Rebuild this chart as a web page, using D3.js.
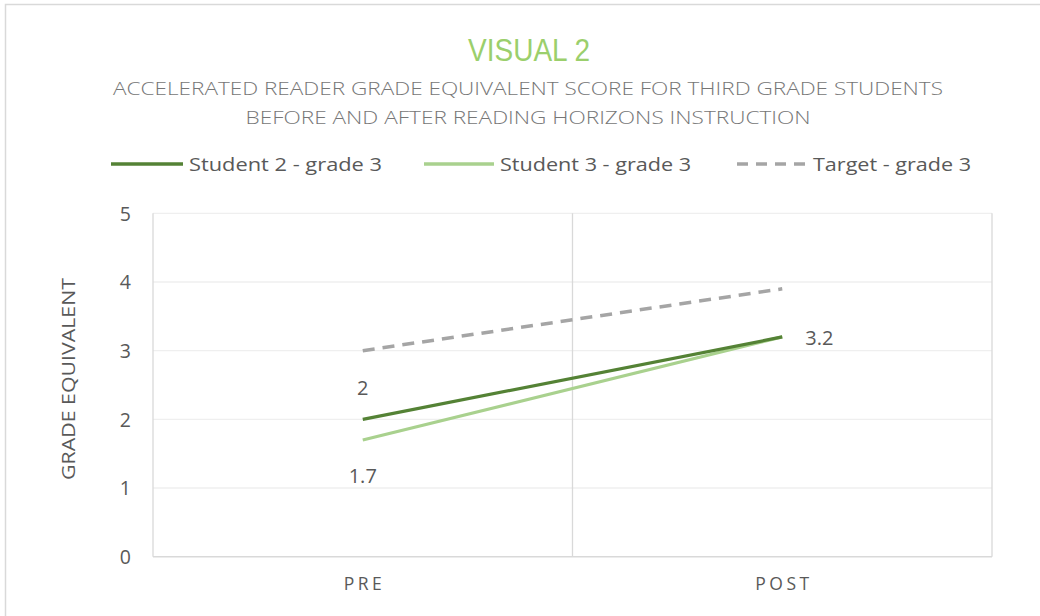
<!DOCTYPE html>
<html><head><meta charset="utf-8">
<script src="https://cdn.jsdelivr.net/npm/d3@7"></script>
<style>body{margin:0;background:#fff}svg{display:block}</style>
</head><body>
<svg id="c" width="1040" height="616"></svg>
<script>
const categories = ["PRE", "POST"];
const student2 = [2, 3.2];
const student3 = [1.7, 3.2];
const target = [3, 3.9];
const seriesNames = ["Student 2 - grade 3", "Student 3 - grade 3", "Target - grade 3"];
const yTicks = [0, 1, 2, 3, 4, 5];
const titleText = "VISUAL 2";
const subtitleLines = ["ACCELERATED READER GRADE EQUIVALENT SCORE FOR THIRD GRADE STUDENTS", "BEFORE AND AFTER READING HORIZONS INSTRUCTION"];
const yTitle = "GRADE EQUIVALENT";

const svg = d3.select("#c");
const L = 153, R = 992, T = 213.3, B = 556.7;
const x = d3.scaleBand().domain(categories).range([L, R]);
const y = d3.scaleLinear().domain([0, 5]).range([B, T]);
const cx = c => x(c) + x.bandwidth() / 2;
const txt = "#595959";

// outer border
svg.append("rect").attr("x", 5.5).attr("y", 4.5).attr("width", 1050).attr("height", 630)
  .attr("fill", "none").attr("stroke", "#d9d9d9").attr("stroke-width", 1.5);

// title
svg.append("text").attr("x", 529).attr("y", 61).attr("text-anchor", "middle")
  .attr("font-family", "'Liberation Sans Narrow', 'Liberation Sans', Arial").attr("font-size", 31)
  .attr("fill", "#9bcf6c").attr("textLength", 122).attr("lengthAdjust", "spacingAndGlyphs").text(titleText);
const subW = [830, 565];
subtitleLines.forEach((s, i) => {
  svg.append("text").attr("x", 528).attr("y", 95 + i * 29).attr("text-anchor", "middle")
    .attr("font-family", "'Open Sans', 'Liberation Sans'").attr("font-size", 18).attr("font-weight", 300)
    .attr("fill", "#767676").attr("textLength", subW[i]).attr("lengthAdjust", "spacingAndGlyphs").text(s);
});

// gridlines
const g = svg.append("g");
g.selectAll(".hg").data(yTicks.filter(d => d > 0)).enter().append("line")
  .attr("x1", L).attr("x2", R).attr("y1", d => y(d)).attr("y2", d => y(d))
  .attr("stroke", "#efefef").attr("stroke-width", 1.3);
const vlines = [L, L + x.bandwidth(), R];
g.selectAll(".vg").data(vlines).enter().append("line")
  .attr("x1", d => d).attr("x2", d => d).attr("y1", T).attr("y2", B)
  .attr("stroke", "#d9d9d9").attr("stroke-width", 1.3);
g.append("line").attr("x1", L).attr("x2", R).attr("y1", B).attr("y2", B)
  .attr("stroke", "#d9d9d9").attr("stroke-width", 1.5);

// y axis ticks
const yAxis = d3.axisLeft(y).tickValues(yTicks).tickSize(0).tickPadding(0).tickFormat(d3.format("d"));
const ya = svg.append("g").attr("transform", `translate(${131},0)`).call(yAxis);
ya.select(".domain").remove();
ya.selectAll("text").attr("font-family", "'Open Sans', 'Liberation Sans'").attr("font-size", 19.5)
  .attr("fill", txt).attr("dy", "0.35em");

// x axis labels
const xAxis = d3.axisBottom(x).tickSize(0).tickPadding(0);
const xa = svg.append("g").attr("transform", `translate(0,${578})`).call(xAxis);
xa.select(".domain").remove();
xa.selectAll("text").attr("font-family", "'Open Sans', 'Liberation Sans'").attr("font-size", 17.5)
  .attr("fill", txt).attr("letter-spacing", 3.5).attr("dy", "0.71em").attr("dx", 1.75);

// y title
svg.append("text").attr("transform", `translate(75,379) rotate(-90)`).attr("text-anchor", "middle")
  .attr("font-family", "'Open Sans', 'Liberation Sans'").attr("font-size", 18).attr("fill", txt)
  .attr("textLength", 202).attr("lengthAdjust", "spacingAndGlyphs").text(yTitle);

// lines
const line = d3.line().x((d, i) => cx(categories[i])).y(d => y(d));
svg.append("path").datum(target).attr("d", line).attr("fill", "none")
  .attr("stroke", "#a5a5a5").attr("stroke-width", 3.5).attr("stroke-dasharray", "12,8");
svg.append("path").datum(student3).attr("d", line).attr("fill", "none")
  .attr("stroke", "#a9d18e").attr("stroke-width", 3.2);
svg.append("path").datum(student2).attr("d", line).attr("fill", "none")
  .attr("stroke", "#548235").attr("stroke-width", 3.2);

// data labels
const lab = svg.append("g").attr("font-family", "'Open Sans', 'Liberation Sans'").attr("font-size", 20).attr("fill", txt);
lab.append("text").attr("x", cx(categories[0])).attr("y", y(student2[0]) - 31).attr("dy", "0.35em")
  .attr("text-anchor", "middle").text(String(student2[0]));
lab.append("text").attr("x", cx(categories[0])).attr("y", y(student3[0]) + 36).attr("dy", "0.35em")
  .attr("text-anchor", "middle").text(String(student3[0]));
lab.append("text").attr("x", cx(categories[1]) + 23).attr("y", y(student2[1]) + 1).attr("dy", "0.35em")
  .attr("text-anchor", "start").text(String(student2[1]));

// legend
const leg = [
  {name: seriesNames[0], color: "#548235", dash: null, x1: 111, x2: 183, tx: 189, tw: 193},
  {name: seriesNames[1], color: "#a9d18e", dash: null, x1: 424, x2: 494, tx: 500, tw: 191},
  {name: seriesNames[2], color: "#a5a5a5", dash: "11,8", x1: 737, x2: 808, tx: 813, tw: 158}
];
leg.forEach(d => {
  svg.append("line").attr("x1", d.x1).attr("x2", d.x2).attr("y1", 164).attr("y2", 164)
    .attr("stroke", d.color).attr("stroke-width", 3.5).attr("stroke-dasharray", d.dash);
  svg.append("text").attr("x", d.tx).attr("y", 164).attr("dy", "0.35em")
    .attr("font-family", "'Open Sans', 'Liberation Sans'").attr("font-size", 19).attr("fill", txt)
    .attr("textLength", d.tw).attr("lengthAdjust", "spacingAndGlyphs").text(d.name);
});
</script>
</body></html>
